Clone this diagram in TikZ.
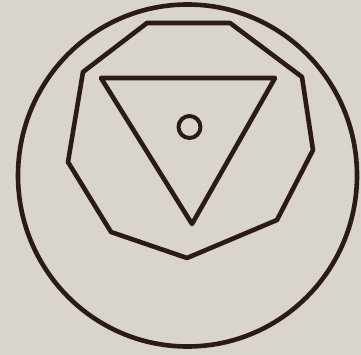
\documentclass[tikz,border=0pt]{standalone}
\definecolor{paper}{HTML}{D9D4CD}
\definecolor{ink}{HTML}{2B1A15}
\begin{document}
\begin{tikzpicture}[x=1pt,y=-1pt,
  shape line/.style={draw=ink,line width=4.6pt,line join=round}]
\fill[paper] (0,0) rectangle (361,355);
\useasboundingbox (0,0) rectangle (361,355);
% outer circle
\draw[shape line] (187.5,175.5) ellipse [x radius=169.5, y radius=171];
% nine-sided polygon
\draw[shape line] (147,23) -- (230,23) -- (302,77) -- (313,150) -- (277,220)
  -- (187,258) -- (111,232) -- (68,162) -- (83,72) -- cycle;
% inverted triangle
\draw[shape line] (101,78) -- (275,78) -- (192,224) -- cycle;
% small circle
\draw[shape line,line width=4pt] (189.5,127) circle [radius=11];
\end{tikzpicture}
\end{document}
